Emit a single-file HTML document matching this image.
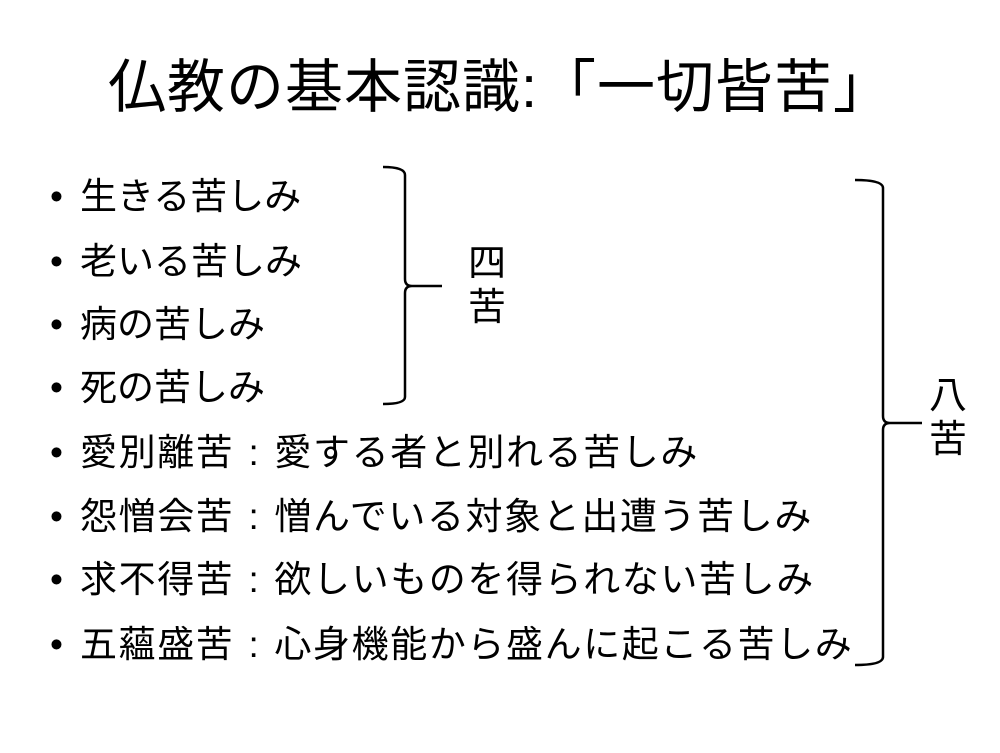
<!DOCTYPE html>
<html><head><meta charset="utf-8"><style>
body{margin:0;width:1000px;height:753px;background:#fff;overflow:hidden;position:relative;font-family:"Liberation Sans","Noto Sans CJK JP",sans-serif;color:#000}
.t{position:absolute;left:0;width:1000px;text-align:center;top:54px;font-size:58px;line-height:68px;white-space:nowrap;letter-spacing:1px}
.l{position:absolute;left:50px;font-size:37px;line-height:40px;white-space:nowrap}
.l.w{letter-spacing:1.6px}
.l b{font-weight:normal;display:inline-block;width:30px}
.l i{font-style:normal;display:inline-block;width:40px;text-align:center}
.c{position:absolute;font-size:38px;line-height:44px;width:40px;text-align:center}
</style></head><body>
<div class="t">仏教の基本認識:「一切皆苦」</div>
<div class="l" style="top:177px"><b>•</b>生きる苦しみ</div>
<div class="l" style="top:242px"><b>•</b>老いる苦しみ</div>
<div class="l" style="top:305px"><b>•</b>病の苦しみ</div>
<div class="l" style="top:368px"><b>•</b>死の苦しみ</div>
<div class="l w" style="top:433px"><b>•</b>愛別離苦<i>:</i>愛する者と別れる苦しみ</div>
<div class="l w" style="top:497px"><b>•</b>怨憎会苦<i>:</i>憎んでいる対象と出遭う苦しみ</div>
<div class="l w" style="top:560px"><b>•</b>求不得苦<i>:</i>欲しいものを得られない苦しみ</div>
<div class="l w" style="top:625px"><b>•</b>五蘊盛苦<i>:</i>心身機能から盛んに起こる苦しみ</div>
<div class="c" style="left:467px;top:242px">四<br>苦</div>
<div class="c" style="left:928px;top:374px">八<br>苦</div>
<svg width="1000" height="753" style="position:absolute;left:0;top:0" fill="none" stroke="#000" stroke-width="2.5">
<path d="M383 167 Q405 167 405 175 L405 279 Q405 286 412 286 L442 286 M412 286 Q405 286 405 293 L405 397 Q405 404 383 404"/>
<path d="M855 180 Q883 180 883 188 L883 416 Q883 423 890 423 L922 423 M890 423 Q883 423 883 430 L883 657 Q883 665 855 665"/>
</svg>
</body></html>
